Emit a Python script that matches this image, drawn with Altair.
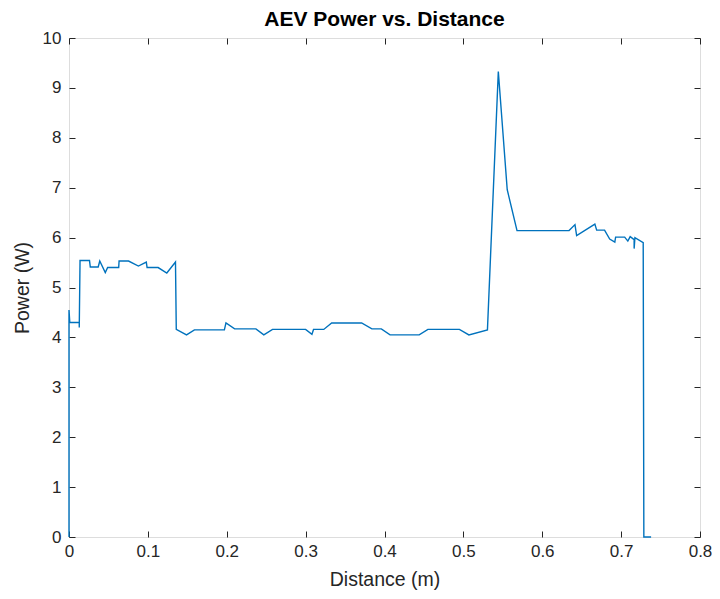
import altair as alt
import pandas as pd

distance = [0.000, 0.000, 0.001, 0.013, 0.013, 0.014, 0.026, 0.027, 0.037, 0.039,
            0.046, 0.049, 0.063, 0.0635, 0.0755, 0.088, 0.098, 0.099, 0.113, 0.124,
            0.135, 0.136, 0.149, 0.159, 0.197, 0.199, 0.210, 0.237, 0.247, 0.258,
            0.300, 0.308, 0.310, 0.323, 0.333, 0.371, 0.384, 0.396, 0.407, 0.444,
            0.455, 0.495, 0.507, 0.5305, 0.5443, 0.5556, 0.568, 0.634, 0.6415, 0.6436,
            0.6667, 0.669, 0.679, 0.6855, 0.692, 0.693, 0.7045, 0.7085, 0.7115, 0.7165,
            0.7165, 0.7175, 0.728, 0.7288, 0.738]
power = [0.00, 4.55, 4.30, 4.30, 4.20, 5.54, 5.54, 5.41, 5.41, 5.53,
         5.30, 5.40, 5.40, 5.53, 5.53, 5.43, 5.51, 5.40, 5.40, 5.29,
         5.51, 4.16, 4.05, 4.15, 4.15, 4.29, 4.17, 4.17, 4.05, 4.16,
         4.16, 4.06, 4.16, 4.16, 4.29, 4.29, 4.17, 4.17, 4.05, 4.05,
         4.16, 4.16, 4.05, 4.15, 9.33, 6.96, 6.14, 6.14, 6.26, 6.04,
         6.27, 6.15, 6.15, 5.97, 5.91, 6.01, 6.01, 5.93, 6.02, 5.96,
         5.78, 6.00, 5.90, 0.00, 0.00]

x_ticks = [0, 0.1, 0.2, 0.3, 0.4, 0.5, 0.6, 0.7, 0.8]
y_ticks = [0, 1, 2, 3, 4, 5, 6, 7, 8, 9, 10]

df = pd.DataFrame({"d": distance, "p": power, "i": list(range(len(distance)))})

FONT = "Liberation Sans"
INK = "#262626"

xs = alt.Scale(domain=[0, 0.8], nice=False, zero=False)
ys = alt.Scale(domain=[0, 10], nice=False, zero=False)

base = alt.Chart(df)

main = base.mark_line(color="#0072BD", strokeWidth=1.4, clip=False).encode(
    x=alt.X("d:Q", scale=xs, axis=alt.Axis(
        orient="bottom", values=x_ticks, format="~g", title="Distance (m)",
        domain=False, ticks=False, grid=False, labelPadding=6, titlePadding=11,
        labelFlush=False, labelOverlap=False,
        labelFontSize=17, titleFontSize=19.5, labelFont=FONT, titleFont=FONT,
        labelColor=INK, titleColor=INK, titleFontWeight="normal")),
    y=alt.Y("p:Q", scale=ys, axis=alt.Axis(
        orient="left", values=y_ticks, format="d", title="Power (W)",
        domain=False, ticks=False, grid=False, labelPadding=8, titlePadding=10,
        labelFlush=False, labelOverlap=False,
        labelFontSize=17, titleFontSize=19.5, labelFont=FONT, titleFont=FONT,
        labelColor=INK, titleColor=INK, titleFontWeight="normal")),
    order="i:Q",
)

def tick_layer(xorient, yorient):
    return base.mark_line(strokeOpacity=0).encode(
        x=alt.X("d:Q", scale=xs, axis=alt.Axis(
            orient=xorient, values=x_ticks, offset=-6, tickSize=6, tickColor=INK,
            tickWidth=1, domain=False, labels=False, title=None, grid=False)),
        y=alt.Y("p:Q", scale=ys, axis=alt.Axis(
            orient=yorient, values=y_ticks, offset=-6, tickSize=6, tickColor=INK,
            tickWidth=1, domain=False, labels=False, title=None, grid=False)),
        order="i:Q",
    )

chart = alt.layer(tick_layer("bottom", "left"), tick_layer("top", "right"), main).resolve_axis(
    x="independent", y="independent"
).properties(
    width=631,
    height=499,
    padding={"left": 61, "top": 30, "right": 12, "bottom": 54},
    autosize=alt.AutoSizeParams(type="none"),
    title=alt.TitleParams("AEV Power vs. Distance", font=FONT, fontSize=21,
                          fontWeight="bold", color="#000000", offset=-1, anchor="middle"),
).configure_view(stroke=INK, strokeWidth=1).configure(background="white")

chart.save("out.html", embed_options={"renderer": "svg", "actions": False})
